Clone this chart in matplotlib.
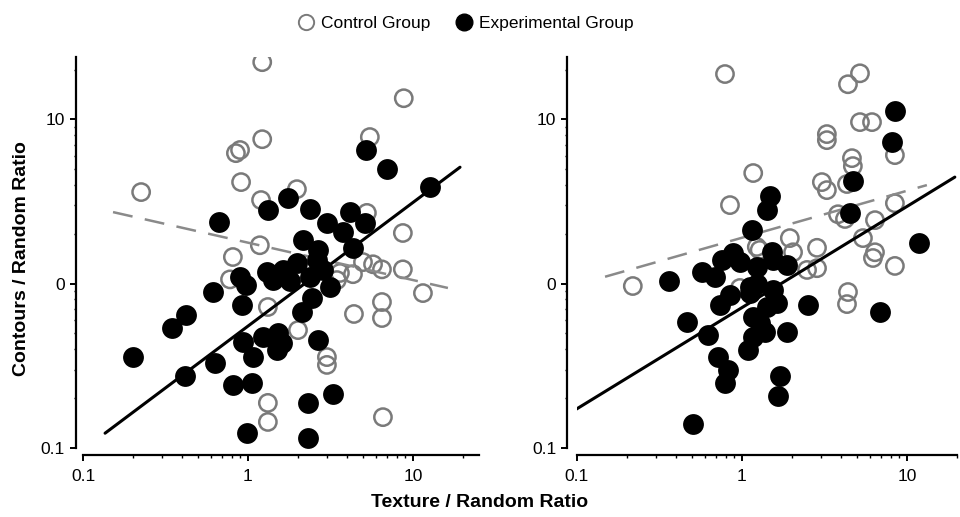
import numpy as np
import matplotlib
matplotlib.use("Agg")
import matplotlib.pyplot as plt
from matplotlib.lines import Line2D

plt.rcParams['font.family'] = ['Liberation Sans', 'DejaVu Sans']

# left panel
left_ctrl_x = [1.22, 8.8, 1.22, 5.48, 0.895, 0.845, 0.908, 0.225, 1.98, 1.20, 5.26, 8.69,
               1.18, 0.81, 0.778, 4.98, 5.73, 6.49, 4.33, 3.61, 8.69, 11.5, 6.49, 6.49,
               4.39, 2.01, 3.01, 3.01, 1.32, 1.32, 6.58, 1.32, 3.46]
left_ctrl_y = [22.2, 13.4, 7.55, 7.78, 6.49, 6.21, 4.14, 3.60, 3.75, 3.22, 2.69, 2.03,
               1.71, 1.45, 1.06, 1.35, 1.31, 1.22, 1.14, 1.16, 1.22, 0.875, 0.772, 0.617,
               0.653, 0.521, 0.357, 0.320, 0.188, 0.144, 0.154, 0.72, 1.05]
left_exp_x = [0.201, 0.346, 0.421, 0.415, 0.614, 0.631, 0.667, 0.895, 0.972, 0.92, 0.933, 1.07,
              0.81, 1.06, 0.986, 1.32, 1.75, 2.38, 3.01, 4.15, 5.12, 3.77, 2.15, 2.65,
              4.33, 1.98, 1.30, 1.63, 2.62, 2.85, 3.14, 2.38, 1.42, 2.44, 2.12, 1.52,
              1.23, 1.61, 1.50, 2.65, 2.31, 3.27, 2.31, 5.19, 6.95, 12.7, 1.80]
left_exp_y = [0.357, 0.536, 0.644, 0.274, 0.888, 0.329, 2.37, 1.10, 0.98, 0.74, 0.441, 0.357,
              0.242, 0.248, 0.123, 2.80, 3.31, 2.84, 2.33, 2.72, 2.33, 2.06, 1.84, 1.60,
              1.65, 1.33, 1.17, 1.21, 1.39, 1.21, 0.952, 1.10, 1.05, 0.816, 0.671, 0.50,
              0.473, 0.435, 0.394, 0.454, 0.188, 0.213, 0.115, 6.49, 4.97, 3.86, 1.03]
left_ctrl_fit_x = [0.152, 16.3]
left_ctrl_fit_y = [2.72, 0.94]
left_exp_fit_x = [0.136, 19.3]
left_exp_fit_y = [0.123, 5.1]

# right panel
right_ctrl_x = [0.789, 4.39, 5.19, 5.19, 6.14, 3.27, 3.27, 8.45, 4.64, 4.70, 1.17, 3.05,
                3.27, 4.33, 0.846, 8.45, 3.82, 4.21, 6.40, 1.95, 2.85, 5.41, 6.40, 1.23,
                2.04, 8.45, 6.22, 2.85, 4.39, 4.33, 0.218, 2.48, 0.972, 1.28]
right_ctrl_y = [18.8, 16.3, 19.0, 9.59, 9.59, 8.11, 7.45, 6.04, 5.79, 5.18, 4.70, 4.14,
                3.70, 4.03, 3.00, 3.08, 2.64, 2.47, 2.43, 1.89, 1.65, 1.89, 1.55, 1.67,
                1.55, 1.28, 1.43, 1.24, 0.888, 0.75, 0.966, 1.21, 0.94, 1.60]
right_exp_x = [8.45, 8.11, 4.71, 1.48, 1.42, 4.52, 1.15, 0.882, 1.52, 11.8, 0.361, 0.573,
               0.686, 0.464, 0.622, 0.716, 0.823, 0.789, 0.505, 1.70, 1.65, 2.51, 6.86, 1.87,
               1.09, 0.736, 0.846, 1.12, 1.54, 1.17, 1.38, 1.23, 0.972, 0.756, 1.54, 1.87,
               1.23, 1.63, 1.28, 1.42, 1.17, 1.12]
right_exp_y = [11.2, 7.25, 4.20, 3.41, 2.80, 2.69, 2.11, 1.53, 1.55, 1.76, 1.04, 1.17,
               1.10, 0.583, 0.486, 0.357, 0.298, 0.248, 0.140, 0.274, 0.207, 0.74, 0.671, 0.507,
               0.394, 0.74, 0.851, 0.875, 0.913, 0.625, 0.507, 1.0, 1.35, 1.39, 1.39, 1.29,
               1.26, 0.76, 0.575, 0.72, 0.473, 0.952]
right_ctrl_fit_x = [0.148, 13.2]
right_ctrl_fit_y = [1.10, 3.97]
right_exp_fit_x = [0.097, 19.5]
right_exp_fit_y = [0.170, 4.44]

ytick_vals = [0.1, 1, 10]
ytick_labels = ['0.1', '0', '10']
xtick_vals = [0.1, 1, 10]
xtick_labels = ['0.1', '1', '10']

GRAY = '#7a7a7a'

fig = plt.figure(figsize=(9.6, 5.17), dpi=100)
ax1 = fig.add_axes([0.0865, 0.1335, 0.412, 0.757])
ax2 = fig.add_axes([0.601, 0.1335, 0.3955, 0.757])

panels = [
    (ax1, left_ctrl_x, left_ctrl_y, left_exp_x, left_exp_y,
     left_ctrl_fit_x, left_ctrl_fit_y, left_exp_fit_x, left_exp_fit_y, 25, 5),
    (ax2, right_ctrl_x, right_ctrl_y, right_exp_x, right_exp_y,
     right_ctrl_fit_x, right_ctrl_fit_y, right_exp_fit_x, right_exp_fit_y, 20, 7),
]

for ax, cx, cy, ex, ey, cfx, cfy, efx, efy, xmax, yoff in panels:
    ax.scatter(cx, cy, s=155, facecolors='none', edgecolors=GRAY, linewidths=1.8, zorder=2)
    ax.plot(cfx, cfy, color='#8a8a8a', lw=1.8, dashes=(8, 5), zorder=3)
    ax.scatter(ex, ey, s=225, color='black', linewidths=0, zorder=4)
    ax.plot(efx, efy, color='black', lw=2.2, solid_capstyle='round', zorder=5)

    ax.set_xscale('log')
    ax.set_yscale('log')
    ax.set_xlim(0.1, xmax)
    ax.set_ylim(0.1, 24)
    ax.set_xticks(xtick_vals, xtick_labels)
    ax.set_yticks(ytick_vals, ytick_labels)
    for side in ['top', 'right']:
        ax.spines[side].set_visible(False)
    ax.spines['left'].set_position(('outward', yoff))
    ax.spines['bottom'].set_position(('outward', 5))
    ax.spines['left'].set_linewidth(1.6)
    ax.spines['bottom'].set_linewidth(1.6)
    ax.tick_params(which='major', direction='out', length=4, width=1.4, labelsize=12.5, pad=4)
    ax.tick_params(axis='x', which='major', pad=6)
    ax.tick_params(which='minor', direction='out', length=2.5, width=1.0)
    ax.tick_params(axis='y', which='minor', length=1.5)
    ax.patch.set_alpha(0)

fig.text(0.5, 0.012, 'Texture / Random Ratio', ha='center', va='bottom',
         fontsize=14, fontweight='bold')
fig.text(0.022, 0.5, 'Contours / Random Ratio', ha='center', va='center',
         rotation=90, fontsize=14, fontweight='bold')

handles = [
    Line2D([], [], ls='none', marker='o', ms=11, mfc='none', mec=GRAY, mew=1.4),
    Line2D([], [], ls='none', marker='o', ms=12, mfc='black', mec='black'),
]
fig.legend(handles, ['Control Group', 'Experimental Group'], loc='center',
           bbox_to_anchor=(0.485, 0.955), ncol=2, frameon=False, fontsize=12.5,
           handletextpad=0.4, columnspacing=1.4, handlelength=1.0)

fig.savefig('out.png', dpi=100)
